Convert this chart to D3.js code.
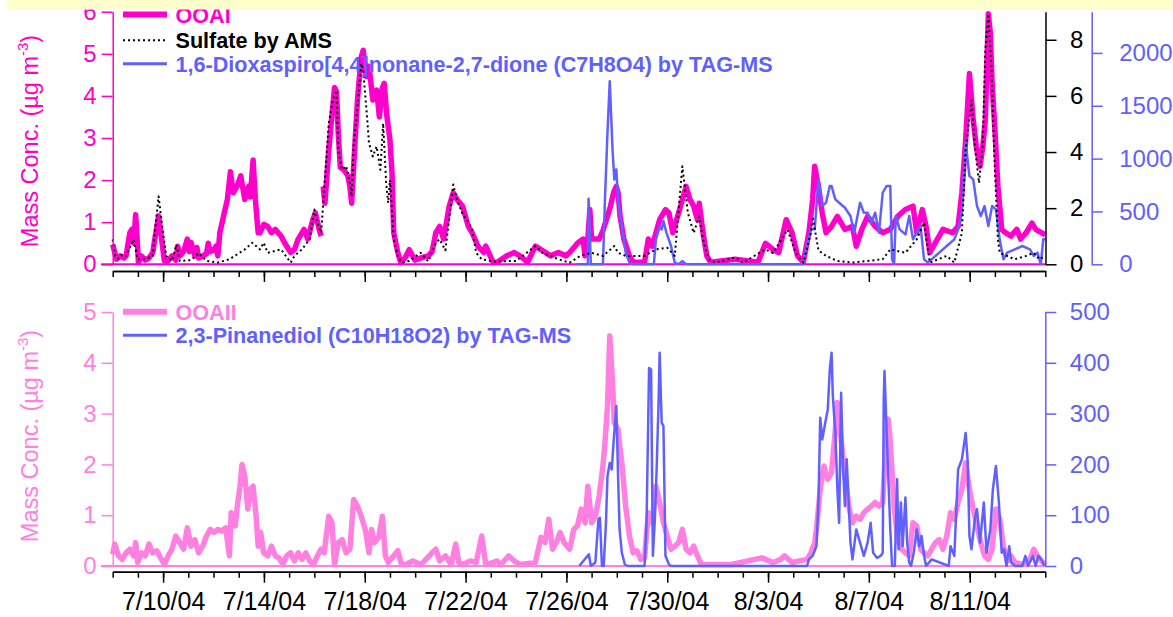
<!DOCTYPE html>
<html>
<head>
<meta charset="utf-8">
<script src="https://cdn.jsdelivr.net/npm/d3@7"></script>
<style>
  body { margin: 0; background: #fff; overflow: hidden; }
  text { font-family: "Liberation Sans", Arial, sans-serif; }
</style>
</head>
<body>
<script>
var startDay = "7/8/04", endDay = "8/14/04";
var dateTicks = ["7/10/04", "7/14/04", "7/18/04", "7/22/04", "7/26/04", "7/30/04", "8/3/04", "8/7/04", "8/11/04"];
var ooaTopTicks = [0, 1, 2, 3, 4, 5, 6];
var sulfateTicks = [0, 2, 4, 6, 8];
var c7Ticks = [0, 500, 1000, 1500, 2000];
var ooaBottomTicks = [0, 1, 2, 3, 4, 5];
var pinTicks = [0, 100, 200, 300, 400, 500];

// every series: [days since 7/8/04 00:00, value]
var ooaI = [[0,0.47],[0.15,0.12],[0.3,0.2],[0.45,0.15],[0.53,0.2],[0.68,0.75],[0.76,0.83],[0.83,0.5],[0.91,1.18],[0.97,0.6],[1.02,0.05],[1.14,0.2],[1.29,0.1],[1.44,0.15],[1.59,0.28],[1.67,0.6],[1.82,1.15],[1.9,0.8],[2.05,0.08],[2.2,0.08],[2.35,0.2],[2.5,0.1],[2.58,0.43],[2.66,0.2],[2.81,0.3],[2.96,0.6],[3.04,0.3],[3.11,0.52],[3.26,0.2],[3.34,0.4],[3.41,0.15],[3.57,0.2],[3.72,0.25],[3.79,0.5],[3.87,0.3],[4.02,0.35],[4.1,0.43],[4.17,0.2],[4.25,0.75],[4.4,1.15],[4.55,1.54],[4.67,2.2],[4.78,1.7],[4.93,1.85],[5.08,2.1],[5.24,1.54],[5.39,1.85],[5.46,1.6],[5.57,2.48],[5.66,1.54],[5.77,0.75],[5.84,0.75],[6.0,0.95],[6.15,0.9],[6.3,0.75],[6.45,0.83],[6.68,0.67],[6.83,0.5],[7.06,0.28],[7.21,0.35],[7.36,0.6],[7.59,0.83],[7.74,0.6],[7.94,1.06],[8.04,1.22],[8.19,0.83],[8.27,0.67],[8.31,null],[8.35,1.85],[8.42,1.45],[8.57,2.7],[8.8,4.2],[8.88,4.1],[8.95,3.1],[9.03,2.3],[9.18,2.24],[9.33,2.1],[9.41,1.85],[9.48,1.45],[9.56,2.33],[9.71,3.9],[9.86,4.93],[9.94,5.08],[10.06,4.46],[10.17,4.7],[10.32,3.9],[10.47,4.14],[10.58,3.5],[10.7,4.2],[10.77,4.3],[10.88,3.5],[11.0,2.96],[11.08,2.17],[11.15,0.75],[11.31,0.28],[11.43,0.04],[11.6,0.15],[11.76,0.35],[11.99,0.1],[12.22,0.15],[12.52,0.2],[12.67,0.3],[12.82,0.75],[12.97,0.9],[13.13,0.6],[13.35,1.38],[13.51,1.7],[13.66,1.54],[13.88,1.38],[14.11,0.9],[14.26,0.75],[14.49,0.43],[14.72,0.28],[14.8,0.43],[15.1,0.04],[15.25,0.05],[15.63,0.2],[15.93,0.28],[16.16,0.2],[16.46,0.05],[16.77,0.43],[17.07,0.32],[17.37,0.2],[17.68,0.28],[17.98,0.2],[18.13,0.28],[18.44,0.5],[18.66,0.6],[18.74,0.2],[18.85,0.6],[18.93,1.3],[19.0,0.6],[19.3,0.6],[19.45,0.8],[19.75,1.38],[19.87,1.7],[19.98,1.85],[20.05,1.7],[20.13,1.14],[20.28,0.6],[20.5,0.2],[20.65,0.05],[21.1,0.05],[21.25,0.6],[21.4,0.43],[21.7,1.06],[21.93,1.3],[22.07,1.22],[22.22,0.75],[22.45,1.22],[22.75,1.85],[22.9,1.54],[23.05,1.38],[23.2,1.06],[23.27,1.45],[23.42,0.75],[23.57,0.2],[23.72,0.05],[24.7,0.12],[25.6,0.05],[25.9,0.5],[26.2,0.35],[26.42,0.28],[26.72,1.06],[26.95,0.75],[27.17,0.2],[27.4,0.05],[27.62,0.75],[27.77,1.54],[27.85,2.33],[28.0,1.85],[28.15,1.22],[28.3,0.75],[28.52,0.9],[28.75,1.14],[29.05,0.83],[29.35,0.9],[29.5,0.43],[29.72,0.83],[29.95,1.14],[30.25,0.9],[30.55,0.75],[30.85,0.83],[31.15,1.14],[31.45,1.3],[31.75,1.38],[31.9,0.75],[32.12,1.3],[32.27,0.9],[32.42,0.28],[32.72,0.6],[32.94,0.83],[33.32,0.75],[33.54,0.9],[33.69,1.7],[33.84,2.96],[33.99,4.53],[34.14,3.43],[34.26,2.8],[34.41,2.33],[34.52,2.8],[34.62,3.43],[34.74,5.95],[34.82,5.48],[34.89,4.3],[35.01,3.1],[35.12,1.85],[35.27,0.83],[35.42,0.75],[35.64,0.67],[35.87,0.83],[36.02,0.6],[36.24,0.75],[36.47,0.98],[36.62,0.83],[37.0,0.7]];

var sulfate = [[0,0.89],[0.08,0.3],[0.23,0.2],[0.38,0.35],[0.53,0.3],[0.68,0.6],[0.83,0.89],[0.99,0.18],[1.29,0.18],[1.59,0.3],[1.67,1.12],[1.82,2.42],[1.97,1.3],[2.12,0.3],[2.35,0.12],[2.53,0.7],[2.66,0.12],[3.11,0.15],[3.41,0.4],[3.72,0.12],[4.17,0.06],[4.63,0.18],[4.93,0.35],[5.24,0.53],[5.54,0.77],[5.69,0.65],[5.84,0.53],[5.99,0.77],[6.15,0.41],[6.68,0.53],[7.06,0.06],[7.21,0.3],[7.51,0.53],[7.81,0.89],[8.0,1.95],[8.12,1.48],[8.27,1.12],[8.57,5.0],[8.73,5.85],[8.88,6.2],[8.95,4.08],[9.1,3.37],[9.26,3.5],[9.41,2.9],[9.48,2.42],[9.56,4.2],[9.71,5.6],[9.86,7.15],[9.94,6.9],[10.06,5.6],[10.17,4.31],[10.32,3.84],[10.47,4.2],[10.62,3.37],[10.73,5.02],[10.85,2.9],[10.93,2.19],[11.0,3.0],[11.15,0.89],[11.31,0.3],[11.46,0.06],[11.76,0.12],[12.22,0.41],[12.52,0.1],[12.82,0.77],[12.97,0.89],[13.2,0.5],[13.51,2.84],[13.66,2.3],[13.88,1.8],[14.04,1.6],[14.26,1.24],[14.42,0.41],[14.64,0.18],[15.1,0.1],[16.0,0.12],[16.77,0.65],[17.07,0.4],[17.37,0.3],[17.68,0.18],[18.13,0.06],[18.55,0.3],[19.0,0.41],[19.45,0.3],[19.9,0.65],[20.05,0.41],[20.35,0.3],[21.1,0.3],[21.55,0.53],[22.0,0.59],[22.3,0.3],[22.6,3.49],[22.82,1.83],[23.05,1.12],[23.27,1.7],[23.42,0.89],[23.65,0.18],[23.9,0.06],[24.7,0.24],[25.0,0.06],[25.9,0.53],[26.2,0.4],[26.77,1.24],[27.1,0.41],[27.4,0.06],[27.7,1.12],[27.77,1.7],[28.0,0.5],[28.3,0.3],[28.75,0.12],[29.35,0.06],[29.95,0.12],[30.55,0.18],[30.85,0.53],[31.45,0.41],[31.9,0.89],[32.19,1.48],[32.42,0.06],[33.09,0.3],[33.39,0.06],[33.69,1.12],[33.84,4.08],[34.07,5.85],[34.22,4.08],[34.37,2.9],[34.52,4.31],[34.62,7.62],[34.74,8.92],[34.86,7.03],[34.97,4.08],[35.12,0.89],[35.19,0.41],[35.79,0.18],[36.24,0.3],[36.54,0.41],[36.77,0.18],[37.0,0.3]];

var c7h8o4 = [[18.4,0],[18.85,0],[18.88,620],[18.97,0],[19.45,0],[19.53,614],[19.63,1244],[19.72,1732],[19.83,1087],[19.9,803],[19.98,898],[20.05,614],[20.2,362],[20.35,110],[20.5,16],[20.65,0],[21.47,0],[21.55,236],[21.7,362],[21.78,330],[21.85,409],[21.97,300],[22.15,173],[22.3,16],[22.45,0],[22.6,30],[22.75,0],[27.4,0],[27.47,110],[27.7,331],[27.85,331],[28.0,803],[28.15,551],[28.3,583],[28.45,740],[28.52,740],[28.67,614],[28.82,583],[29.05,535],[29.27,457],[29.42,299],[29.65,583],[29.8,488],[29.95,488],[30.1,394],[30.25,488],[30.4,299],[30.55,677],[30.7,740],[30.85,740],[30.92,47],[31.0,0],[31.07,457],[31.22,331],[31.45,283],[31.6,457],[31.75,236],[31.9,299],[32.05,362],[32.19,47],[32.34,16],[32.79,110],[33.09,173],[33.39,236],[33.54,331],[33.69,488],[33.84,1150],[33.99,835],[34.14,803],[34.29,551],[34.44,457],[34.59,551],[34.74,362],[34.89,551],[35.04,520],[35.19,236],[35.34,47],[35.49,110],[35.79,142],[36.09,173],[36.39,142],[36.54,79],[36.69,110],[36.82,0],[36.92,236],[37.0,236]];

var ooaII = [[0,0.23],[0.08,0.43],[0.23,0.2],[0.38,0.13],[0.53,0.26],[0.68,0.33],[0.83,0.2],[0.91,0.46],[0.99,0.07],[1.14,0.26],[1.29,0.2],[1.44,0.43],[1.59,0.26],[1.75,0.3],[1.9,0.16],[2.05,0.03],[2.2,0.2],[2.35,0.33],[2.5,0.59],[2.66,0.46],[2.81,0.33],[2.96,0.75],[3.11,0.39],[3.26,0.52],[3.41,0.26],[3.57,0.39],[3.72,0.59],[3.87,0.72],[4.02,0.66],[4.17,0.72],[4.32,0.69],[4.48,0.75],[4.63,0.2],[4.7,1.05],[4.86,0.79],[4.93,1.12],[5.05,1.57],[5.13,2.0],[5.24,1.77],[5.36,1.12],[5.46,1.51],[5.57,1.57],[5.69,0.98],[5.77,0.39],[5.87,0.66],[5.99,0.26],[6.15,0.2],[6.3,0.39],[6.45,0.2],[6.6,0.16],[6.75,0.03],[6.9,0.2],[7.06,0.26],[7.21,0.1],[7.36,0.26],[7.51,0.13],[7.66,0.26],[7.81,0.1],[7.97,0.03],[8.12,0.2],[8.27,0.33],[8.39,0.26],[8.57,0.98],[8.7,0.85],[8.8,0.03],[8.95,0.46],[9.1,0.52],[9.26,0.26],[9.41,0.33],[9.56,1.31],[9.71,1.18],[9.86,0.98],[10.02,0.72],[10.17,0.26],[10.27,0.72],[10.39,0.46],[10.55,0.56],[10.7,0.98],[10.82,0.2],[10.93,0.07],[11.15,0.2],[11.31,0.3],[11.46,0.03],[11.61,0.03],[11.91,0.1],[12.22,0.03],[12.37,0.1],[12.67,0.26],[12.82,0.33],[12.97,0.1],[13.2,0.2],[13.43,0.03],[13.61,0.43],[13.73,0.07],[13.88,0.03],[14.19,0.1],[14.42,0.07],[14.64,0.59],[14.8,0.03],[15.1,0.07],[15.25,0.1],[15.4,0.03],[15.71,0.2],[15.93,0.1],[16.16,0.03],[16.77,0.07],[16.99,0.56],[17.15,0.46],[17.3,0.92],[17.45,0.33],[17.6,0.46],[17.75,0.66],[17.91,0.46],[18.13,0.33],[18.29,0.72],[18.44,0.79],[18.59,1.12],[18.74,0.85],[18.85,1.57],[19.0,0.85],[19.15,0.98],[19.3,1.38],[19.45,1.97],[19.53,2.43],[19.63,3.15],[19.72,4.53],[19.83,3.61],[19.9,2.82],[20.05,2.69],[20.13,2.3],[20.2,2.03],[20.35,1.18],[20.5,0.59],[20.65,0.26],[20.8,0.3],[20.95,0.13],[21.1,0.16],[21.25,1.05],[21.4,0.85],[21.55,1.57],[21.7,1.25],[21.85,0.85],[22.0,0.59],[22.15,0.33],[22.3,0.39],[22.45,0.46],[22.6,0.72],[22.75,0.33],[22.9,0.26],[23.05,0.39],[23.2,0.2],[23.35,0.03],[23.8,0.03],[24.55,0.03],[25.75,0.16],[25.9,0.13],[26.2,0.07],[26.5,0.13],[26.65,0.2],[26.95,0.07],[27.55,0.13],[27.7,0.26],[27.85,0.46],[27.92,0.72],[28.07,1.51],[28.22,1.97],[28.37,1.71],[28.52,1.84],[28.67,2.69],[28.75,3.22],[28.9,2.49],[29.05,1.77],[29.2,1.18],[29.35,0.85],[29.5,0.98],[29.65,0.92],[29.8,1.05],[29.95,1.12],[30.1,1.18],[30.25,1.25],[30.4,1.18],[30.55,1.25],[30.7,2.62],[30.77,2.89],[30.85,2.43],[31.0,1.18],[31.15,0.52],[31.3,0.33],[31.45,0.26],[31.6,0.2],[31.75,0.85],[31.9,0.79],[32.05,0.33],[32.19,0.26],[32.34,0.2],[32.49,0.33],[32.64,0.46],[32.79,0.52],[32.94,0.33],[33.09,0.59],[33.24,1.05],[33.39,0.92],[33.54,1.25],[33.69,1.51],[33.84,2.03],[33.99,1.51],[34.14,1.12],[34.29,0.79],[34.44,0.46],[34.59,0.2],[34.74,0.13],[34.89,0.33],[35.04,1.12],[35.19,0.92],[35.34,0.39],[35.49,0.1],[35.64,0.2],[35.79,0.07],[36.09,0.03],[36.39,0.13],[36.54,0.33],[36.69,0.2],[36.84,0.1],[37.0,0.03]];

var pinanediol = [[18.51,0],[18.89,23],[18.97,0],[19.15,7],[19.27,92],[19.33,95],[19.41,0],[19.48,0],[19.57,85],[19.63,177],[19.72,203],[19.8,190],[19.87,243],[19.98,315],[20.05,177],[20.11,72],[20.2,26],[20.32,3],[20.43,0],[21.1,0],[21.18,85],[21.28,390],[21.36,387],[21.43,20],[21.51,92],[21.58,190],[21.66,328],[21.7,420],[21.78,282],[21.85,276],[21.93,20],[22.07,3],[22.15,0],[27.55,0],[27.62,13],[27.77,20],[27.92,39],[28.0,125],[28.07,292],[28.15,249],[28.27,282],[28.37,308],[28.45,387],[28.52,420],[28.57,335],[28.67,262],[28.75,151],[28.82,85],[28.9,341],[28.97,203],[29.05,118],[29.12,210],[29.2,125],[29.27,46],[29.35,13],[29.5,72],[29.65,46],[29.8,20],[29.95,46],[30.07,85],[30.17,26],[30.32,16],[30.47,20],[30.55,26],[30.59,328],[30.62,384],[30.73,230],[30.85,72],[30.92,0],[31.03,0],[31.12,171],[31.18,33],[31.27,125],[31.34,39],[31.45,135],[31.52,46],[31.6,7],[31.67,0],[31.78,26],[31.9,72],[32.0,39],[32.09,59],[32.19,20],[32.27,0],[32.49,13],[33.17,0],[33.24,39],[33.39,20],[33.54,190],[33.69,210],[33.84,262],[33.92,207],[33.99,59],[34.07,33],[34.22,98],[34.29,112],[34.41,46],[34.56,125],[34.67,26],[34.82,72],[34.92,151],[35.04,197],[35.16,125],[35.27,26],[35.37,33],[35.46,0],[35.57,39],[35.64,7],[35.79,0],[36.09,0],[36.21,20],[36.32,0],[36.51,20],[36.62,0],[36.72,20],[36.84,13],[36.97,0]];

var magenta = "#FF00CC", pink = "#FF80E0", blue = "#6060FF";

var parseDate = d3.timeParse("%m/%d/%y");
var formatDate = d3.timeFormat("%-m/%-d/%y");
var formatNum = d3.format("d");
var t0 = parseDate(startDay), t1 = parseDate(endDay);
function toDate(t) { return new Date(t0.getTime() + t * 864e5); }

var svg = d3.select("body").append("svg")
    .attr("width", 1173)
    .attr("height", 617);

var x = d3.scaleTime().domain([t0, t1]).range([112.7, 1045.3]);
var yTop = d3.scaleLinear().domain([0, 6]).range([264.3, 11.7]);
var ySulfate = d3.scaleLinear().domain([0, 9]).range([264.3, 11.7]);
var yC7 = d3.scaleLinear().domain([0, 2390]).range([264.3, 11.7]);
var yBottom = d3.scaleLinear().domain([0, 5]).range([566, 312]);
var yPin = d3.scaleLinear().domain([0, 500]).range([566, 312]);

function styleAxis(g, color, size) {
    g.attr("font-family", null).attr("font-size", null);
    g.select(".domain").attr("stroke", color).attr("stroke-width", 1.5);
    g.selectAll(".tick line").attr("stroke", color).attr("stroke-width", 1.5);
    g.selectAll(".tick text").attr("fill", color).style("font-size", size + "px");
}

function drawSeries(data, yScale, color, width, dash) {
    var line = d3.line()
        .defined(function (d) { return d[1] !== null; })
        .x(function (d) { return x(toDate(d[0])); })
        .y(function (d) { return yScale(d[1]); });
    svg.append("path")
        .datum(data)
        .attr("d", line)
        .attr("fill", "none")
        .attr("stroke", color)
        .attr("stroke-width", width)
        .attr("stroke-linejoin", "round")
        .attr("stroke-dasharray", dash || null);
}

function zeroLine(y, color) {
    svg.append("line")
        .attr("x1", 101).attr("x2", x.range()[1])
        .attr("y1", y).attr("y2", y)
        .attr("stroke", color).attr("stroke-width", 2);
}

// time axis: a short tick for every day, a long one every 4 days
function timeAxis(yPos, withLabels) {
    var days = d3.timeDay.range(t0, d3.timeDay.offset(t1, 1));
    var gMinor = svg.append("g")
        .attr("transform", "translate(0," + yPos + ")")
        .call(d3.axisBottom(x).tickValues(days).tickSize(6).tickSizeOuter(0).tickFormat(""));
    styleAxis(gMinor, "#000", 25);
    var gMajor = svg.append("g")
        .attr("transform", "translate(0," + yPos + ")")
        .call(d3.axisBottom(x).tickValues(dateTicks.map(parseDate)).tickSize(11).tickSizeOuter(0)
            .tickPadding(10).tickFormat(withLabels ? formatDate : ""));
    styleAxis(gMajor, "#000", 25);
}

function yTitle(cx, cy, color) {
    var t = svg.append("text")
        .attr("transform", "translate(" + cx + "," + cy + ") rotate(-90)")
        .attr("text-anchor", "middle")
        .attr("fill", color)
        .style("font-size", "23.5px");
    t.append("tspan").text("Mass Conc. (\u00b5g m");
    t.append("tspan").attr("dy", -10).style("font-size", "15px").text("-3");
    t.append("tspan").attr("dy", 10).text(")");
}

function legendRow(y, color, width, dash, label, textColor) {
    svg.append("line")
        .attr("x1", 123).attr("x2", 167)
        .attr("y1", y).attr("y2", y)
        .attr("stroke", color).attr("stroke-width", width)
        .attr("stroke-dasharray", dash || null);
    svg.append("text")
        .attr("x", 175.5).attr("y", y + 8)
        .attr("fill", textColor)
        .style("font-size", "21.6px")
        .style("font-weight", "bold")
        .text(label);
}

// ---------- top panel ----------
zeroLine(yTop(0), magenta);
drawSeries(ooaI, yTop, magenta, 5.5);
drawSeries(c7h8o4, yC7, blue, 2.5);
drawSeries(sulfate, ySulfate, "#000", 2, "2,3");

styleAxis(svg.append("g").attr("transform", "translate(112.7,0)")
    .call(d3.axisLeft(yTop).tickValues(ooaTopTicks).tickFormat(formatNum).tickSize(11).tickSizeOuter(0).tickPadding(5)), magenta, 24);
styleAxis(svg.append("g").attr("transform", "translate(1045.5,0)")
    .call(d3.axisRight(ySulfate).tickValues(sulfateTicks).tickFormat(formatNum).tickSize(11).tickSizeOuter(0).tickPadding(13.5)), "#000", 24);
styleAxis(svg.append("g").attr("transform", "translate(1091.7,0)")
    .call(d3.axisRight(yC7).tickValues(c7Ticks).tickFormat(formatNum).tickSize(11).tickSizeOuter(0).tickPadding(16.5)), blue, 24);
timeAxis(271, false);
yTitle(38, 141, magenta);

legendRow(14.5, magenta, 6, null, "OOAI", magenta);
legendRow(40.3, "#000", 2, "2,3", "Sulfate by AMS", "#000");
legendRow(63.7, blue, 3, null, "1,6-Dioxaspiro[4,4]nonane-2,7-dione (C7H8O4) by TAG-MS", blue);

// ---------- bottom panel ----------
zeroLine(yBottom(0), pink);
drawSeries(ooaII, yBottom, pink, 5.5);
drawSeries(pinanediol, yPin, blue, 2.5);

styleAxis(svg.append("g").attr("transform", "translate(112.7,0)")
    .call(d3.axisLeft(yBottom).tickValues(ooaBottomTicks).tickFormat(formatNum).tickSize(11).tickSizeOuter(0).tickPadding(5)), pink, 24);
styleAxis(svg.append("g").attr("transform", "translate(1045.3,0)")
    .call(d3.axisRight(yPin).tickValues(pinTicks).tickFormat(formatNum).tickSize(11).tickSizeOuter(0).tickPadding(13.5)), blue, 24);
timeAxis(571.7, true);
yTitle(38, 436, pink);

legendRow(311.7, pink, 6, null, "OOAII", pink);
legendRow(335.3, blue, 3, null, "2,3-Pinanediol (C10H18O2) by TAG-MS", blue);

// pale yellow strip across the top edge
svg.append("rect")
    .attr("x", 7).attr("y", 0)
    .attr("width", 1166).attr("height", 9.5)
    .attr("fill", "#FFFFCC");
</script>
</body>
</html>
